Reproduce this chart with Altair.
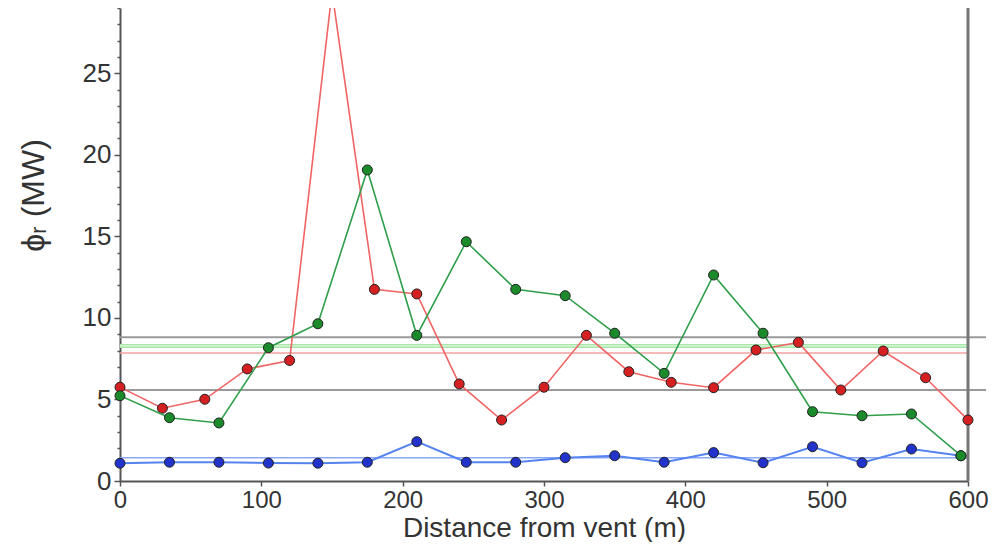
import altair as alt
import pandas as pd

# ---- data ----
red_x = [0, 30, 60, 90, 120, 150, 180, 210, 240, 270, 300, 330, 360, 390, 420, 450, 480, 510, 540, 570, 600]
red_y = [5.75, 4.46, 5.01, 6.87, 7.39, 30.0, 11.75, 11.47, 5.95, 3.74, 5.75, 8.93, 6.70, 6.05, 5.72, 8.03, 8.50, 5.58, 7.97, 6.33, 3.74]

green_x = [0, 35, 70, 105, 140, 175, 210, 245, 280, 315, 350, 385, 420, 455, 490, 525, 560, 595]
green_y = [5.23, 3.88, 3.56, 8.17, 9.64, 19.07, 8.93, 14.67, 11.75, 11.36, 9.06, 6.60, 12.63, 9.06, 4.25, 4.00, 4.11, 1.55]

blue_x = [0, 35, 70, 105, 140, 175, 210, 245, 280, 315, 350, 385, 420, 455, 490, 525, 560, 595]
blue_y = [1.09, 1.15, 1.15, 1.10, 1.09, 1.15, 2.41, 1.15, 1.15, 1.43, 1.55, 1.15, 1.74, 1.12, 2.10, 1.12, 1.96, 1.55]

level_gray_high = [8.81]
level_green = [8.28]
level_red = [7.85]
level_gray_low = [5.58]
level_blue = [1.43]
profile_end = [600]

x_tick_values = [0, 100, 200, 300, 400, 500, 600]
y_tick_values = list(range(0, 30))
x_domain = [0, 600]
y_domain = [0, 29]

x_title = "Distance from vent (m)"
y_title = "\u03d5\u1d63 (MW)"

# ---- layout / style ----
PLOT_W = 848
PLOT_H = 473
FONT = "Liberation Sans, Arial, DejaVu Sans, sans-serif"
TEXT_COLOR = "#333333"
AXIS_COLOR = "#555555"

x_axis = alt.Axis(
    values=x_tick_values, title=x_title, grid=False, labelFlush=False,
    labelFontSize=24, labelFont=FONT, labelColor=TEXT_COLOR, labelPadding=2,
    tickSize=5, tickColor=AXIS_COLOR, tickWidth=1.5,
    domainColor=AXIS_COLOR, domainWidth=2,
    titleFontSize=28, titleFont=FONT, titleColor=TEXT_COLOR,
    titleFontWeight="normal", titlePadding=2,
)
y_axis = alt.Axis(
    values=y_tick_values, title=y_title, grid=False, labelFlush=False,
    labelExpr="datum.value % 5 === 0 ? datum.label : ''",
    labelFontSize=26, labelFont=FONT, labelColor=TEXT_COLOR, labelPadding=3,
    tickSize={"condition": {"test": "datum.value % 5 === 0", "value": 6}, "value": 3},
    tickColor=AXIS_COLOR, tickWidth=1.5,
    domainColor=AXIS_COLOR, domainWidth=2,
    titleFontSize=32, titleFont=FONT, titleColor=TEXT_COLOR,
    titleFontWeight="normal", titleX=-70, titleY=187, titleAngle=-90,
    titleAlign="center", titleBaseline="bottom",
)

x_scale = alt.Scale(domain=x_domain, nice=False, zero=False)
y_scale = alt.Scale(domain=y_domain, nice=False, zero=False)


def X(field="x"):
    return alt.X(f"{field}:Q", scale=x_scale, axis=x_axis)


def Y(field="y"):
    return alt.Y(f"{field}:Q", scale=y_scale, axis=y_axis)


def hline(values, color, width, extend):
    df = pd.DataFrame({"y": values})
    return alt.Chart(df).mark_rule(color=color, strokeWidth=width).encode(
        y=Y(), x=alt.value(0), x2=alt.value(PLOT_W + extend)
    )


def series(xs, ys, line_color, fill_color, line_width):
    df = pd.DataFrame({"x": xs, "y": ys})
    base = alt.Chart(df).encode(x=X(), y=Y())
    line = base.mark_line(color=line_color, strokeWidth=line_width, clip=True)
    pts = base.transform_filter(
        f"datum.y <= {y_domain[1]}"
    ).mark_point(
        shape="circle", filled=True, fill=fill_color, stroke="#222222",
        strokeWidth=1, size=100, opacity=1,
    )
    return line + pts


rules = (
    hline(level_gray_high, "#9a9a9a", 2, 18)
    + hline(level_gray_low, "#9a9a9a", 2, 18)
    + hline(level_green, "#a8e6a8", 4, 0)
    + hline(level_green, "#e2f7e2", 1.2, 0)
    + hline(level_red, "#f4a0a0", 1.5, 0)
    + hline(level_blue, "#8aa8f5", 1.5, 0)
)

vline = alt.Chart(pd.DataFrame({"x": profile_end})).mark_rule(
    color="#777777", strokeWidth=3
).encode(x=X(), y=alt.value(0), y2=alt.value(PLOT_H))

blue = series(blue_x, blue_y, "#5583f0", "#2233cc", 2)
red = series(red_x, red_y, "#f06464", "#d42020", 1.6)
green = series(green_x, green_y, "#2f9e4a", "#1a8a2a", 1.6)

chart = alt.layer(rules, vline, blue, red, green).properties(
    width=PLOT_W, height=PLOT_H,
    padding={"left": 9, "top": -2, "right": 0, "bottom": 0},
    background="white",
).configure_view(strokeWidth=0)

chart.save("out.html", embed_options={"renderer": "svg", "actions": False})
